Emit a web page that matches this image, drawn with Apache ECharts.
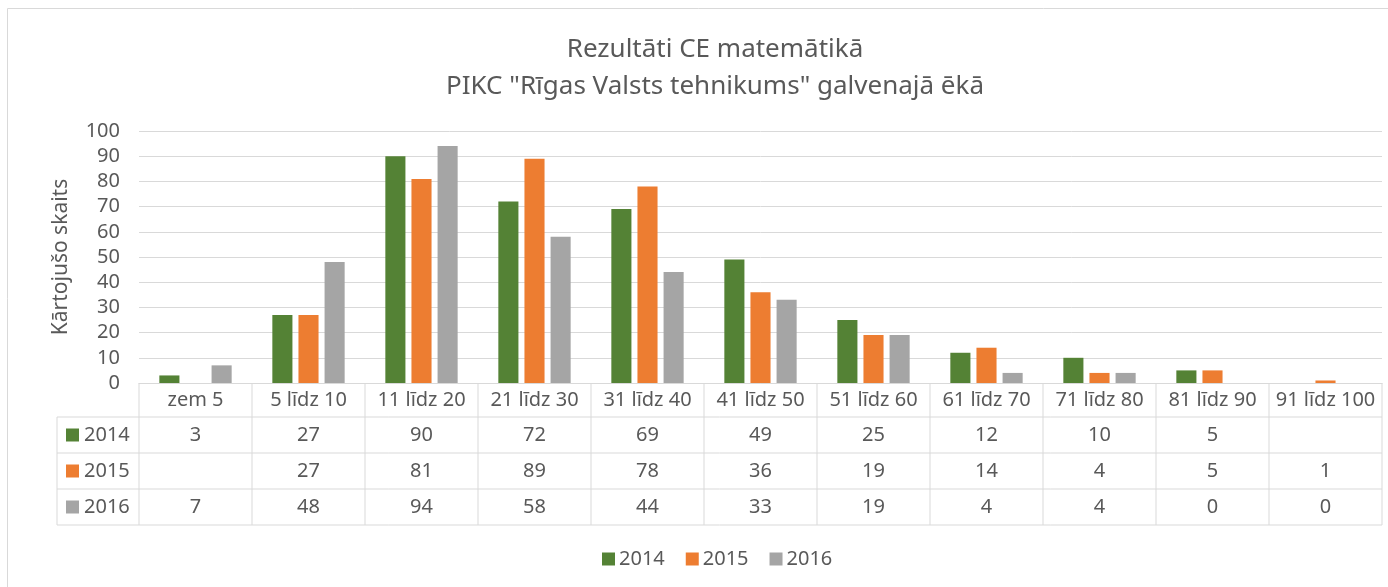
<!DOCTYPE html>
<html>
<head>
<meta charset="utf-8">
<script src="https://cdn.jsdelivr.net/npm/echarts@6/dist/echarts.min.js"></script>
<style>
  html, body { margin: 0; padding: 0; background: #fff; }
  #chart { width: 1388px; height: 587px; }
</style>
</head>
<body>
<div id="chart"></div>
<script>
const categories = ['zem 5', '5 līdz 10', '11 līdz 20', '21 līdz 30', '31 līdz 40', '41 līdz 50',
  '51 līdz 60', '61 līdz 70', '71 līdz 80', '81 līdz 90', '91 līdz 100'];
const years = ['2014', '2015', '2016'];
const v2014 = [3, 27, 90, 72, 69, 49, 25, 12, 10, 5, null];
const v2015 = [null, 27, 81, 89, 78, 36, 19, 14, 4, 5, 1];
const v2016 = [7, 48, 94, 58, 44, 33, 19, 4, 4, 0, 0];
const colors = ['#548235', '#ed7d31', '#a5a5a5'];
const yTicks = [0, 100, 10];

const FONT = '"Noto Sans", sans-serif';
const TXT = '#595959';
const LINE = '#d9d9d9';
const FS = 20;

const chart = echarts.init(document.getElementById('chart'));

const seriesData = [v2014, v2015, v2016];

chart.setOption({
  animation: false,
  color: colors,
  textStyle: { fontFamily: FONT },
  title: {
    text: 'Rezultāti CE matemātikā\nPIKC "Rīgas Valsts tehnikums" galvenajā ēkā',
    left: 710,
    textAlign: 'center',
    top: 26,
    textStyle: { fontFamily: FONT, fontWeight: 'normal', fontSize: 26, color: TXT, lineHeight: 37 }
  },
  legend: {
    top: 544,
    left: 597,
    itemWidth: 13,
    itemHeight: 13,
    itemGap: 21,
    icon: 'rect',
    textStyle: { fontFamily: FONT, fontSize: FS, color: TXT, padding: [0, 0, 0, -1] },
    data: years
  },
  grid: { left: 139, right: 6, top: 131, bottom: 204, containLabel: false },
  xAxis: {
    type: 'category',
    data: categories,
    axisLine: { lineStyle: { color: LINE } },
    axisTick: { show: false },
    axisLabel: { fontFamily: FONT, fontSize: FS, color: TXT, margin: 7, interval: 0 }
  },
  yAxis: {
    type: 'value',
    min: yTicks[0],
    max: yTicks[1],
    interval: yTicks[2],
    name: 'Kārtojušo skaits',
    nameLocation: 'middle',
    nameGap: 67,
    nameRotate: 90,
    nameTextStyle: { fontFamily: FONT, fontSize: 21, color: TXT },
    axisLine: { show: false },
    axisTick: { show: false },
    axisLabel: { fontFamily: FONT, fontSize: FS, color: TXT, margin: 19 },
    splitLine: { lineStyle: { color: LINE } }
  },
  series: years.map((y, i) => ({
    name: y,
    type: 'bar',
    data: seriesData[i],
    barGap: '30%',
    barCategoryGap: '36%'
  }))
});

// data table under the plot, laid out from the axis positions
function drawTable() {
  const c0 = chart.convertToPixel({ xAxisIndex: 0 }, 0);
  const c1 = chart.convertToPixel({ xAxisIndex: 0 }, 1);
  const band = c1 - c0;
  const xStart = c0 - band / 2;
  const xEnd = xStart + band * categories.length;
  const yTop = chart.convertToPixel({ yAxisIndex: 0 }, 0);
  const rowH = 36;
  const headH = 34;
  const labelLeft = 57;
  const rowTops = years.map((_, i) => yTop + headH + i * rowH);
  const bottom = yTop + headH + years.length * rowH;
  const els = [];
  const ls = { stroke: LINE, lineWidth: 1 };

  // horizontal lines
  rowTops.concat([bottom]).forEach(y => {
    els.push({ type: 'line', shape: { x1: labelLeft, y1: y, x2: xEnd, y2: y }, style: ls, silent: true });
  });
  // vertical lines
  for (let k = 0; k <= categories.length; k++) {
    const x = xStart + band * k;
    els.push({ type: 'line', shape: { x1: x, y1: yTop, x2: x, y2: bottom }, style: ls, silent: true });
  }
  els.push({ type: 'line', shape: { x1: labelLeft, y1: rowTops[0], x2: labelLeft, y2: bottom }, style: ls, silent: true });

  years.forEach((y, i) => {
    const cy = rowTops[i] + rowH / 2;
    els.push({ type: 'rect', shape: { x: 66, y: cy - 6.5, width: 13, height: 13 }, style: { fill: colors[i] }, silent: true });
    els.push({ type: 'text', x: 84, y: cy, style: { text: y, fill: TXT, font: FS + 'px ' + FONT, verticalAlign: 'middle' }, silent: true });
    seriesData[i].forEach((v, k) => {
      if (v === null) return;
      const cx = chart.convertToPixel({ xAxisIndex: 0 }, k);
      els.push({ type: 'text', x: cx, y: cy, style: { text: String(v), fill: TXT, font: FS + 'px ' + FONT, align: 'center', verticalAlign: 'middle' }, silent: true });
    });
  });

  // chart frame
  els.push({ type: 'rect', shape: { x: 7.5, y: 8.5, width: 1390, height: 590 }, style: { fill: null, stroke: LINE, lineWidth: 1 }, silent: true });

  chart.setOption({ graphic: els });
}
drawTable();
</script>
</body>
</html>
